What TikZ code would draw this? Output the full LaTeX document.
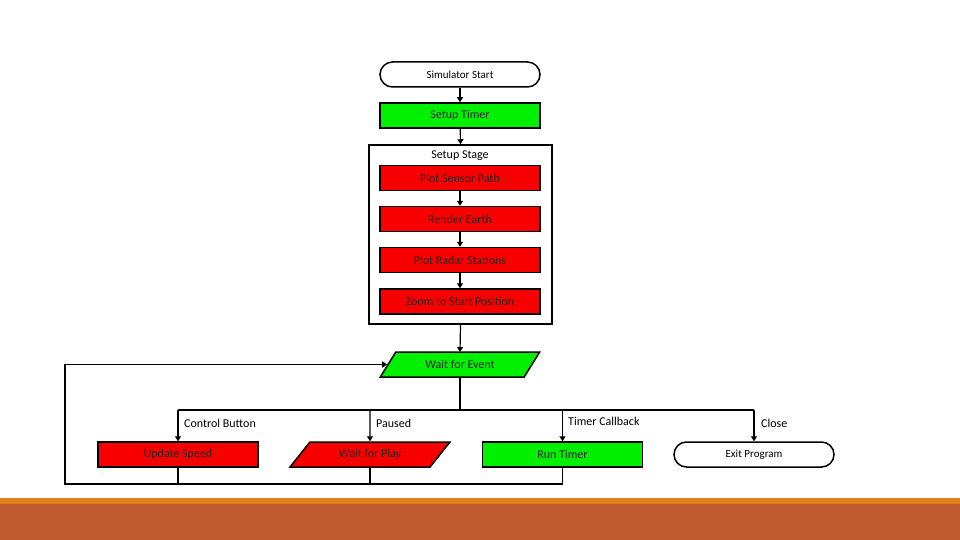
\documentclass[tikz,border=0pt]{standalone}
\usepackage{fontspec}
\setmainfont{Carlito}
\usetikzlibrary{shapes.geometric,arrows.meta,positioning}
\definecolor{boxgreen}{HTML}{00F000}
\definecolor{boxred}{HTML}{F80000}
\definecolor{barorange}{HTML}{E0821A}
\definecolor{barbrown}{HTML}{BE5A2D}

\begin{document}
\begin{tikzpicture}[x=1pt,y=-1pt,
      term/.style={draw,line width=1.5pt,rounded corners=12.5pt,fill=white,
                   minimum width=160pt,minimum height=25pt,inner sep=0pt,
                   font=\fontsize{11}{12}\selectfont},
      proc/.style={draw,line width=1.5pt,minimum width=160pt,minimum height=25pt,
                   inner sep=0pt,font=\fontsize{12}{13}\selectfont,text=black!85},
      io/.style={proc,trapezium,trapezium left angle=45,trapezium right angle=135,
                 trapezium stretches=true,minimum width=160pt},
      arr/.style={-{Triangle[length=5pt,width=6pt]},line width=1.2pt},
      loop/.style={line width=1.6pt},
      lbl/.style={font=\fontsize{12}{13}\selectfont,anchor=west,inner sep=0pt},
  ]
  \useasboundingbox (0,0) rectangle (960,540);

  %--- Setup chain ---
  \node[term] (start) at (460,74.5) {Simulator Start};
  \node[proc,fill=boxgreen] (timer) at (460,115.5) {Setup Timer};
  \node[draw,line width=1.5pt,minimum width=183pt,minimum height=179pt] (stage) at (460.5,234.5) {};
  \node[font=\fontsize{12}{13}\selectfont] (stagelbl) at (460,156) {Setup Stage};
  \node[proc,fill=boxred] (sensor) at (460,178) {Plot Sensor Path};
  \node[proc,fill=boxred] (earth) at (460,219) {Render Earth};
  \node[proc,fill=boxred] (radar) at (460,260) {Plot Radar Stations};
  \node[proc,fill=boxred] (zoom) at (460,301.5) {Zoom to Start Position};

  \draw[arr] (start) -- (timer);
  \draw[arr] (timer) -- (stage.north);
  \draw[arr] (sensor) -- (earth);
  \draw[arr] (earth) -- (radar);
  \draw[arr] (radar) -- (zoom);
  \draw[arr] (stage.south) -- (460,352);

  %--- Event loop ---
  \node[io,fill=boxgreen] (wait) at (460,364.5) {Wait for Event};
  \coordinate (split) at (460,410);
  \coordinate (corner) at (65,484);

  \node[proc,fill=boxred] (speed) at (178,454.5) {Update Speed};
  \node[io,fill=boxred] (play) at (370,454.5) {Wait for Play};
  \node[proc,fill=boxgreen] (run) at (562.5,454.5) {Run Timer};
  \node[term] (exitp) at (754,454.5) {Exit Program};

  \draw[loop] (wait.south) -- (split);
  \draw[loop] (speed |- split) -- (exitp |- split);
  \foreach \x in {speed,play,run,exitp}
    \draw[arr] (split -| \x) -- (\x.north);

  \node[lbl] (l1) at (184,423) {Control Button};
  \node[lbl] (l2) at (376,423) {Paused};
  \node[lbl] (l3) at (568,421) {Timer Callback};
  \node[lbl] (l4) at (761,423) {Close};

  % back to the event wait
  \draw[loop] (speed.south) -- (speed |- corner);
  \draw[loop] (play.south) -- (play |- corner);
  \draw[loop,-{Triangle[length=5pt,width=6pt]}] (run.south) |- (corner) |- (wait.west);

  %--- Footer bar ---
  \fill[barorange] (0,498) rectangle (960,504);
  \fill[barbrown] (0,504) rectangle (960,540);
\end{tikzpicture}
\end{document}
